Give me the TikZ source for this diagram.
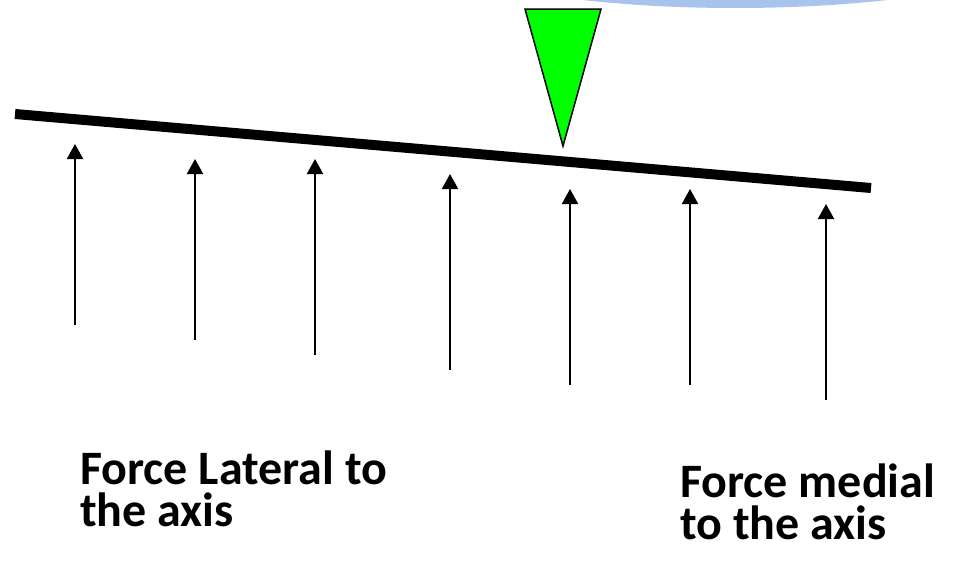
\documentclass[tikz,border=0pt]{standalone}
\usepackage{fontspec}
\setmainfont{Carlito}
\usetikzlibrary{arrows.meta}
\definecolor{bubblefill}{HTML}{A8C4EC}
\definecolor{wedgegreen}{HTML}{00FF00}
\tikzset{
  beam/.style={line width=10pt, line cap=butt},
  force/.style={line width=2pt, -{Triangle[width=16pt,length=15pt]}},
  wedge/.style={fill=wedgegreen, draw=black, line width=1.5pt, line join=miter},
  lbl/.style={anchor=base west, inner sep=0pt, align=left, font=\fontsize{48}{42}\selectfont\bfseries}
}
\begin{document}
\begin{tikzpicture}[x=1pt,y=-1pt]
\useasboundingbox (0,0) rectangle (957,560);
\begin{scope}
  \clip (0,0) rectangle (957,560);
  \fill[bubblefill] (735,-52) ellipse [x radius=305, y radius=60];
\end{scope}
% beam
\coordinate (bL) at (15,114);
\coordinate (bR) at (871,188);
\draw[beam] (bL) -- (bR);
% wedge
\coordinate (w1) at (525,9);
\coordinate (w2) at (601,9);
\coordinate (w3) at (563,146);
\draw[wedge] (w1) -- (w2) -- (w3) -- cycle;
% forces
\foreach \i/\x/\t/\b in {1/75/144/325, 2/195/159/340, 3/315/159/355, 4/450/174/370, 5/570/189/385, 6/690/189/385, 7/826/204/400}{
  \coordinate (f\i s) at (\x,\b);
  \coordinate (f\i e) at (\x,\t);
  \draw[force] (f\i s) -- (f\i e);
}
% labels
\node[lbl] (lat) at (80,526) {Force Lateral to\\the axis};
\node[lbl] (med) at (680,539) {Force medial\\to the axis};
\end{tikzpicture}
\end{document}
